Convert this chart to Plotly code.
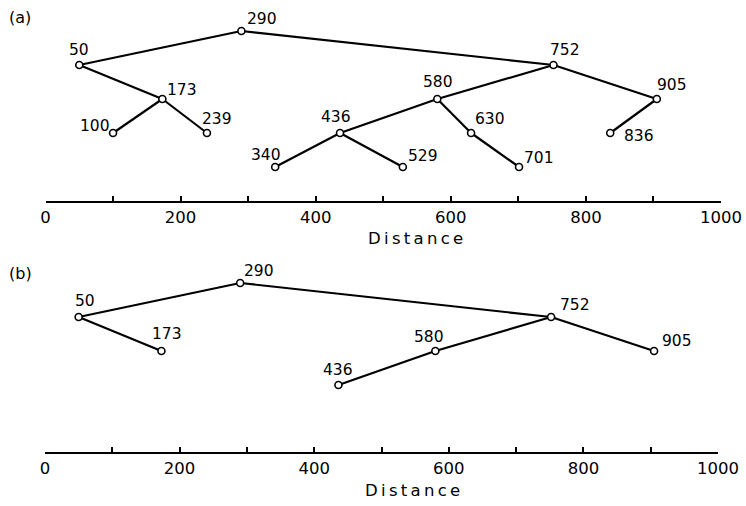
import plotly.graph_objects as go

# Tree (a): node distances, depth level and parent node
dist_a = [290, 50, 752, 173, 580, 905, 100, 239, 436, 630, 836, 340, 529, 701]
level_a = [0, 1, 1, 2, 2, 2, 3, 3, 3, 3, 3, 4, 4, 4]
parent_a = [None, 290, 290, 50, 752, 752, 173, 173, 580, 580, 905, 436, 436, 630]

# Tree (b): pruned version
dist_b = [290, 50, 752, 173, 580, 905, 436]
level_b = [0, 1, 1, 2, 2, 2, 3]
parent_b = [None, 290, 290, 50, 752, 752, 580]

tick_vals = list(range(0, 1001, 100))
tick_text = [str(v) if v % 200 == 0 else "" for v in tick_vals]

# label offsets in pixels (dx right, dy up) for each node label
offs_a = {290: (21, 12), 50: (0, 15), 752: (12, 15), 173: (20, 9), 580: (1, 17),
          905: (15, 14), 100: (-18, 7), 239: (10, 14), 436: (-4, 16), 630: (19, 14),
          836: (29, -3), 340: (-9, 12), 529: (20, 11), 701: (20, 9)}
offs_b = {290: (19, 12), 50: (6, 16), 752: (24, 12), 173: (6, 17), 580: (-6, 14),
          905: (23, 10), 436: (0, 15)}

FONT = "DejaVu Sans"
fig = go.Figure()


def add_tree(dist, level, parent, xa, ya, offs):
    depth = dict(zip(dist, level))
    ex, ey = [], []
    for d, p in zip(dist, parent):
        if p is None:
            continue
        ex += [p, d, None]
        ey += [depth[p], depth[d], None]
    fig.add_trace(go.Scatter(x=ex, y=ey, mode="lines", xaxis=xa, yaxis=ya,
                             line=dict(color="black", width=2.2),
                             hoverinfo="skip", showlegend=False, cliponaxis=False))
    fig.add_trace(go.Scatter(x=dist, y=level, mode="markers", xaxis=xa, yaxis=ya,
                             marker=dict(symbol="circle", size=7, color="white",
                                         line=dict(color="black", width=1.6)),
                             showlegend=False, cliponaxis=False))
    for d, lv in zip(dist, level):
        dx, dy = offs[d]
        fig.add_annotation(x=d, y=lv, xref=xa, yref=ya, text=str(d), showarrow=False,
                           xshift=dx, yshift=dy, xanchor="center", yanchor="middle",
                           font=dict(family=FONT, size=15.5, color="black"))


add_tree(dist_a, level_a, parent_a, "x", "y", offs_a)
add_tree(dist_b, level_b, parent_b, "x2", "y2", offs_b)

xaxis_style = dict(range=[0, 1000], showgrid=False, zeroline=False, showline=True,
                   linecolor="black", linewidth=1.5, ticks="inside", ticklen=5,
                   tickwidth=1.5, tickcolor="black", tickvals=tick_vals,
                   ticktext=tick_text, tickfont=dict(family=FONT, size=16.5, color="black"),
                   fixedrange=True, automargin=False)
yaxis_style = dict(visible=False, showgrid=False, zeroline=False, fixedrange=True,
                   automargin=False)

fig.update_layout(
    width=746, height=506,
    margin=dict(l=0, r=0, t=0, b=0, autoexpand=False),
    paper_bgcolor="white", plot_bgcolor="white",
    xaxis=dict(xaxis_style, domain=[45.5 / 746, 721 / 746], anchor="y"),
    yaxis=dict(yaxis_style, domain=[1 - 201 / 506, 1], range=[5, -31 / 34]),
    xaxis2=dict(xaxis_style, domain=[45 / 746, 718 / 746], anchor="y2"),
    yaxis2=dict(yaxis_style, domain=[1 - 452 / 506, 1 - 250 / 506],
                range=[169 / 34, -33 / 34]),
)

panel_labels = [("(a)", 17, "Distance", 239, 415), ("(b)", 273, "Distance", 490, 412)]
for tag, ty, title, dy, dxc in panel_labels:
    fig.add_annotation(x=20 / 746, y=1 - ty / 506, xref="paper", yref="paper",
                       text=tag, showarrow=False, xanchor="center", yanchor="middle",
                       font=dict(family=FONT, size=16, color="black"))
    fig.add_annotation(x=dxc / 746, y=1 - dy / 506, xref="paper", yref="paper",
                       text="\u2009".join(title), showarrow=False,
                       xanchor="center", yanchor="middle",
                       font=dict(family=FONT, size=16.5, color="black"))

fig.write_html("out.html")
